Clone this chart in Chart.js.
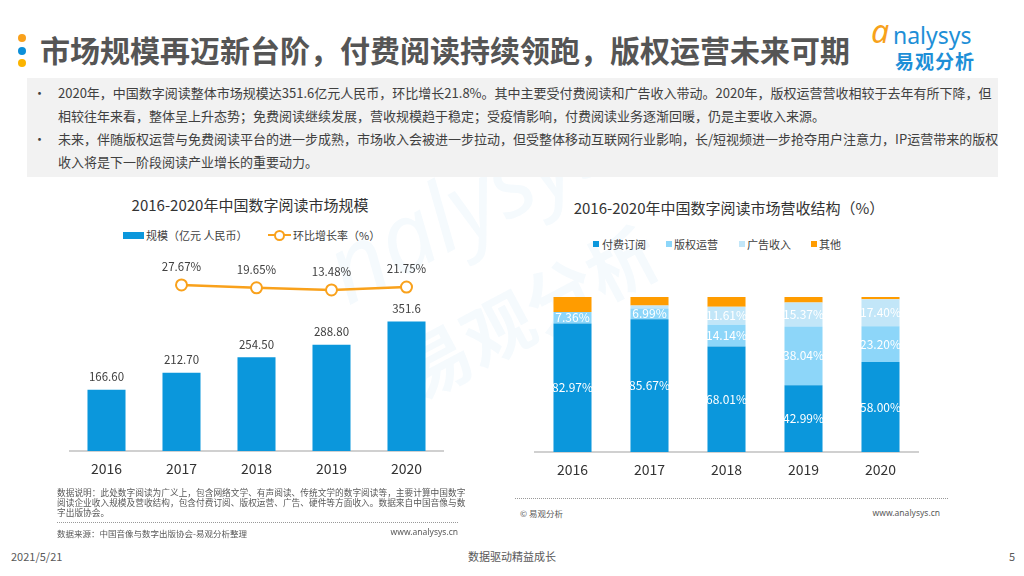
<!DOCTYPE html>
<html>
<head>
<meta charset="utf-8">
<script src="https://cdn.jsdelivr.net/npm/chart.js@4.4.0/dist/chart.umd.min.js"></script>
<style>
  body{margin:0;background:#fff;}
  #page{position:relative;width:1024px;height:576px;overflow:hidden;background:#fff;
        font-family:'Noto Sans CJK SC','Noto Sans',sans-serif;color:#404040;}
  .t{position:absolute;white-space:nowrap;}
  .dot{position:absolute;width:8px;height:8px;border-radius:50%;}
  .box{position:absolute;}
  .wrap{position:absolute;}
</style>
</head>
<body>
<div id="page">

  <!-- 水印 -->
  <div class="t" style="left:300px;top:215px;font-family:'Noto Sans';font-size:96px;font-style:italic;color:rgba(20,150,220,0.045);transform:rotate(-28deg);transform-origin:0 0;">nalysys</div>
  <div class="t" style="left:380px;top:330px;font-size:70px;font-weight:bold;color:rgba(20,150,220,0.045);transform:rotate(-28deg);transform-origin:0 0;">易观分析</div>

  <!-- 标题 -->
  <div class="dot" style="left:18px;top:34px;background:#f9a11b;"></div>
  <div class="dot" style="left:18px;top:47px;background:#0c8fd9;"></div>
  <div class="dot" style="left:18px;top:59px;background:#fbb400;"></div>
  <div class="t" style="left:40px;top:31px;font-size:30px;line-height:36px;font-weight:bold;color:#555;">市场规模再迈新台阶，付费阅读持续领跑，版权运营未来可期</div>

  <!-- logo -->
  <div class="t" style="left:871px;top:14px;font-family:'Noto Sans';font-size:32px;line-height:34px;font-style:italic;color:#f7a21b;">a</div>
  <div class="t" style="left:893px;top:21px;font-family:'Noto Sans';font-size:23px;line-height:28px;color:#1e8fd7;">nalysys</div>
  <div class="t" style="left:895px;top:49px;font-size:19px;line-height:24px;font-weight:bold;color:#1e8fd7;letter-spacing:1px;">易观分析</div>

  <!-- 要点 -->
  <div class="box" style="left:27px;top:78px;width:971px;height:99px;background:#f2f2f2;"></div>
  <div class="t" style="left:33px;top:85px;font-size:13px;line-height:16px;">•</div>
  <div class="t" style="left:33px;top:131px;font-size:13px;line-height:16px;">•</div>
  <div class="t" style="left:58px;top:85px;font-size:13px;line-height:16px;">2020年，中国数字阅读整体市场规模达351.6亿元人民币，环比增长21.8%。其中主要受付费阅读和广告收入带动。2020年，版权运营营收相较于去年有所下降，但</div>
  <div class="t" style="left:58px;top:108px;font-size:13px;line-height:16px;">相较往年来看，整体呈上升态势；免费阅读继续发展，营收规模趋于稳定；受疫情影响，付费阅读业务逐渐回暖，仍是主要收入来源。</div>
  <div class="t" style="left:58px;top:131px;font-size:13px;line-height:16px;">未来，伴随版权运营与免费阅读平台的进一步成熟，市场收入会被进一步拉动，但受整体移动互联网行业影响，长/短视频进一步抢夺用户注意力，IP运营带来的版权</div>
  <div class="t" style="left:58px;top:154px;font-size:13px;line-height:16px;">收入将是下一阶段阅读产业增长的重要动力。</div>

  <!-- 左图 -->
  <div class="t" style="left:100px;top:196px;width:300px;text-align:center;font-size:15px;line-height:18px;color:#333;">2016-2020年中国数字阅读市场规模</div>
  <div class="box" style="left:123px;top:232px;width:21px;height:7px;background:#0b97dc;"></div>
  <div class="t" style="left:146px;top:227px;font-size:11px;line-height:16px;">规模（亿元 人民币）</div>
  <div class="box" style="left:268px;top:234px;width:23px;height:2px;background:#f9a11b;"></div>
  <div class="box" style="left:274px;top:230px;width:7px;height:7px;border:2px solid #f9a11b;border-radius:50%;background:#fff;"></div>
  <div class="t" style="left:293px;top:227px;font-size:11px;line-height:16px;">环比增长率（%）</div>
  <div class="wrap" style="left:69px;top:250px;width:375px;height:240px;"><canvas id="sizeChart"></canvas></div>

  <div class="t" style="left:57px;top:488px;font-size:8.7px;line-height:10px;color:#595959;">数据说明：此处数字阅读为广义上，包含网络文学、有声阅读、传统文学的数字阅读等，主要计算中国数字</div>
  <div class="t" style="left:57px;top:498px;font-size:8.7px;line-height:10px;color:#595959;">阅读企业收入规模及营收结构，包含付费订阅、版权运营、广告、硬件等方面收入。数据来自中国音像与数</div>
  <div class="t" style="left:57px;top:508px;font-size:8.7px;line-height:10px;color:#595959;">字出版协会。</div>
  <div class="box" style="left:57px;top:522px;width:401px;height:0;border-top:1px dotted #999;"></div>
  <div class="t" style="left:57px;top:528px;font-size:8.5px;line-height:10px;color:#595959;">数据来源：中国音像与数字出版协会-易观分析整理</div>
  <div class="t" style="left:358px;top:527px;width:100px;text-align:right;font-family:'Noto Sans';font-size:8.5px;line-height:10px;color:#595959;">www.analysys.cn</div>

  <!-- 右图 -->
  <div class="t" style="left:529px;top:199px;width:400px;text-align:center;font-size:15px;line-height:18px;color:#333;">2016-2020年中国数字阅读市场营收结构（%）</div>
  <div class="box" style="left:593px;top:241px;width:6px;height:6px;background:#0b97dc;"></div>
  <div class="t" style="left:602px;top:236px;font-size:11px;line-height:16px;">付费订阅</div>
  <div class="box" style="left:666px;top:241px;width:6px;height:6px;background:#8dd6f9;"></div>
  <div class="t" style="left:674px;top:236px;font-size:11px;line-height:16px;">版权运营</div>
  <div class="box" style="left:739px;top:241px;width:6px;height:6px;background:#c2e6f8;"></div>
  <div class="t" style="left:747px;top:236px;font-size:11px;line-height:16px;">广告收入</div>
  <div class="box" style="left:811px;top:241px;width:6px;height:6px;background:#ff9c00;"></div>
  <div class="t" style="left:819px;top:236px;font-size:11px;line-height:16px;">其他</div>
  <div class="wrap" style="left:534px;top:297px;width:385px;height:194px;"><canvas id="mixChart"></canvas></div>

  <div class="box" style="left:515px;top:498px;width:433px;height:0;border-top:1px dotted #999;"></div>
  <div class="t" style="left:520px;top:508px;font-size:8.5px;line-height:10px;color:#595959;">© 易观分析</div>
  <div class="t" style="left:840px;top:508px;width:100px;text-align:right;font-family:'Noto Sans';font-size:8.5px;line-height:10px;color:#595959;">www.analysys.cn</div>

  <!-- 页脚 -->
  <div class="t" style="left:11px;top:549px;font-size:11px;line-height:14px;color:#595959;">2021/5/21</div>
  <div class="t" style="left:462px;top:549px;width:100px;text-align:center;font-size:11px;line-height:14px;color:#595959;">数据驱动精益成长</div>
  <div class="t" style="left:1009px;top:549px;font-size:11px;line-height:14px;color:#595959;">5</div>
</div>

<script>
// 数据
const years = ['2016', '2017', '2018', '2019', '2020'];
const marketSize = [166.6, 212.7, 254.5, 288.8, 351.6];          // 亿元人民币
const marketSizeText = ['166.60', '212.70', '254.50', '288.80', '351.6'];
const growthRate = [null, 27.67, 19.65, 13.48, 21.75];           // %
const paidRead = [82.97, 85.67, 68.01, 42.99, 58.00];            // 付费订阅
const copyrightOps = [7.36, 6.99, 14.14, 38.04, 23.20];          // 版权运营
const adIncome = [0, 1.84, 11.61, 15.37, 17.40];                 // 广告收入
const otherIncome = [9.67, 5.50, 6.24, 3.60, 1.40];              // 其他

const FONT = "'Noto Sans CJK SC', 'Noto Sans', sans-serif";
const BLUE = '#0b97dc';
const ORANGE = '#f9a11b';

function pct(v) { return v >= 5 ? v.toFixed(2) + '%' : ''; }

// 数值标签
const valueLabels = {
  id: 'valueLabels',
  afterDatasetsDraw(chart) {
    const ctx = chart.ctx;
    chart.data.datasets.forEach(function (ds, i) {
      if (!ds.valueText) return;
      const meta = chart.getDatasetMeta(i);
      ctx.save();
      ctx.font = ds.valueFont;
      ctx.fillStyle = ds.valueColor;
      ctx.textAlign = 'center';
      ctx.textBaseline = 'middle';
      meta.data.forEach(function (el, j) {
        const t = ds.valueText[j];
        if (!t) return;
        const y = ds.valueInside ? (el.y + el.base) / 2 : el.y - ds.valueOffset;
        ctx.fillText(t, el.x, y);
      });
      ctx.restore();
    });
  }
};

// 左：市场规模
new Chart(document.getElementById('sizeChart'), {
  data: {
    labels: years,
    datasets: [{
      type: 'line',
      order: 0,
      data: growthRate,
      yAxisID: 'y1',
      borderColor: ORANGE,
      borderWidth: 2.5,
      pointRadius: 5.5,
      pointBorderWidth: 2,
      pointBackgroundColor: '#fff',
      pointBorderColor: ORANGE,
      valueText: growthRate.map(function (v) { return v == null ? '' : v.toFixed(2) + '%'; }),
      valueOffset: 18,
      valueFont: '11.5px ' + FONT,
      valueColor: '#404040'
    }, {
      type: 'bar',
      order: 1,
      data: marketSize,
      yAxisID: 'y',
      backgroundColor: BLUE,
      categoryPercentage: 1,
      barPercentage: 0.507,
      valueText: marketSizeText,
      valueOffset: 13,
      valueFont: '11.5px ' + FONT,
      valueColor: '#404040'
    }]
  },
  options: {
    responsive: true,
    maintainAspectRatio: false,
    animation: false,
    layout: { padding: 0, autoPadding: false },
    plugins: { legend: { display: false }, tooltip: { enabled: false } },
    scales: {
      x: {
        grid: { display: false, drawTicks: false },
        border: { color: '#d0d0d0', width: 2 },
        ticks: { font: { size: 14, family: FONT }, color: '#333', padding: 9 },
        afterFit: function (s) { s.height = 39; }
      },
      y: { display: false, min: 0, max: 546 },
      y1: { display: false, min: -444, max: 127 }
    }
  },
  plugins: [valueLabels]
});

// 右：营收结构
function seg(label, data, color, showText) {
  return {
    label: label,
    data: data,
    backgroundColor: color,
    categoryPercentage: 1,
    barPercentage: 0.494,
    valueText: showText ? data.map(pct) : null,
    valueInside: true,
    valueFont: '12px ' + FONT,
    valueColor: '#fff'
  };
}

new Chart(document.getElementById('mixChart'), {
  type: 'bar',
  data: {
    labels: years,
    datasets: [
      seg('付费订阅', paidRead, BLUE, true),
      seg('版权运营', copyrightOps, '#8dd6f9', true),
      seg('广告收入', adIncome, '#c2e6f8', true),
      seg('其他', otherIncome, '#ff9c00', false)
    ]
  },
  options: {
    responsive: true,
    maintainAspectRatio: false,
    animation: false,
    layout: { padding: 0, autoPadding: false },
    plugins: { legend: { display: false }, tooltip: { enabled: false } },
    scales: {
      x: {
        stacked: true,
        grid: { display: false, drawTicks: false },
        border: { color: '#d0d0d0', width: 2 },
        ticks: { font: { size: 14, family: FONT }, color: '#333', padding: 9 },
        afterFit: function (s) { s.height = 39; }
      },
      y: { stacked: true, display: false, min: 0, max: 100 }
    }
  },
  plugins: [valueLabels]
});
</script>
</body>
</html>
